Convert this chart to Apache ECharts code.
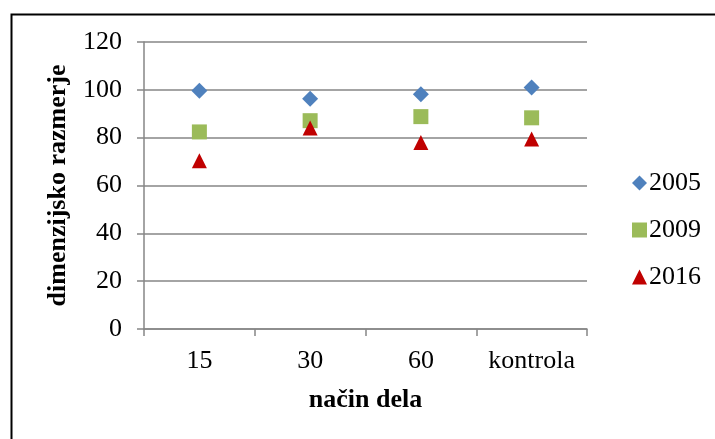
<!DOCTYPE html>
<html><head><meta charset="utf-8">
<script src="https://cdn.jsdelivr.net/npm/echarts@6/dist/echarts.min.js"></script>
<style>html,body{margin:0;padding:0;background:#fff}#c{width:715px;height:439px}</style>
</head><body><div id="c"></div>
<script>
const categories = ['15', '30', '60', 'kontrola'];
const s2005 = [99.6, 96.3, 98.2, 101.0];
const s2009 = [82.4, 87.1, 88.8, 88.3];
const s2016 = [70.3, 84.0, 78.0, 79.4];
const seriesNames = ['2005', '2009', '2016'];
const yTicks = {min: 0, max: 120, interval: 20};

const font = 'Liberation Serif';
const chart = echarts.init(document.getElementById('c'), null, {renderer: 'canvas'});
const axisGray = '#868686';
chart.setOption({
  animation: false,
  backgroundColor: '#fff',
  graphic: [{
    type: 'rect', left: 9, top: 12, silent: true,
    shape: {x: 0, y: 0, width: 800, height: 500},
    style: {fill: 'none', stroke: '#000', lineWidth: 2}
  }],
  grid: {left: 144, right: 128, top: 42, bottom: 110, containLabel: false},
  legend: {
    orient: 'vertical', left: 627, top: 165, itemGap: 21,
    itemWidth: 15, itemHeight: 15,
    textStyle: {fontFamily: font, fontSize: 26, color: '#000', padding: [0,0,0,-3]},
    data: seriesNames
  },
  xAxis: {
    type: 'category', data: categories, boundaryGap: true,
    name: 'način dela', nameLocation: 'middle', nameGap: 58,
    nameTextStyle: {fontFamily: font, fontSize: 26, fontWeight: 'bold', color: '#000'},
    axisLine: {lineStyle: {color: axisGray, width: 1.5}},
    axisTick: {show: true, interval: 0, length: 7, lineStyle: {color: axisGray, width: 1.5}, alignWithLabel: false},
    axisLabel: {interval: 0, hideOverlap: false, fontFamily: font, fontSize: 26, color: '#000', margin: 19},
    splitLine: {show: false}
  },
  yAxis: {
    type: 'value', min: yTicks.min, max: yTicks.max, interval: yTicks.interval,
    name: 'dimenzijsko razmerje', nameLocation: 'middle', nameGap: 73, nameRotate: 90,
    nameTextStyle: {fontFamily: font, fontSize: 26, fontWeight: 'bold', color: '#000'},
    axisLine: {show: true, lineStyle: {color: axisGray, width: 1.5}},
    axisTick: {show: true, length: 7, inside: false, lineStyle: {color: axisGray, width: 1.5}},
    axisLabel: {fontFamily: font, fontSize: 26, color: '#000', margin: 22},
    splitLine: {show: true, lineStyle: {color: axisGray, width: 1.5}}
  },
  series: [
    {name: seriesNames[0], type: 'scatter', data: s2005, symbol: 'diamond', symbolSize: 16, itemStyle: {color: '#4F81BD', opacity: 1}},
    {name: seriesNames[1], type: 'scatter', data: s2009, symbol: 'rect', symbolSize: 15, itemStyle: {color: '#9BBB59', opacity: 1}},
    {name: seriesNames[2], type: 'scatter', data: s2016, symbol: 'triangle', symbolSize: 15, itemStyle: {color: '#C00000', opacity: 1}}
  ]
});
</script></body></html>
